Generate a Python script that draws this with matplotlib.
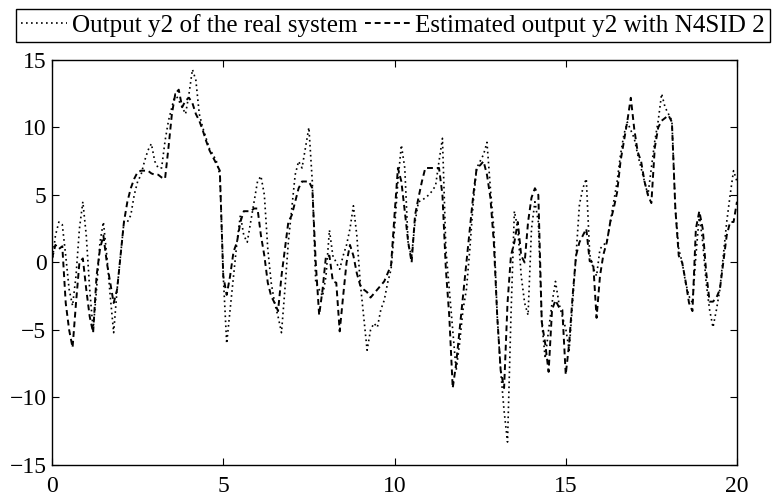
import numpy as np
import matplotlib
matplotlib.use('Agg')
import matplotlib.pyplot as plt

plt.rcParams['font.family'] = ['Liberation Serif', 'DejaVu Serif']

SAMPLE_TIME = 0.1  # [s]
REAL_LABEL = 'Output y2 of the real system'
N4SID_LABEL = 'Estimated output y2 with N4SID 2'
X_TICKS = [0, 5, 10, 15, 20]
Y_TICKS = [-15, -10, -5, 0, 5, 10, 15]

# measured output y2, one row per second
y2_real = [
    0.0, 2.0, 3.0, 2.8, 0.5, -2.0, -3.2, -1.0, 2.5, 4.5,
    2.0, -2.0, -5.0, -2.0, 1.5, 3.0, 0.5, -2.5, -5.2, -2.0,
    0.5, 3.0, 3.0, 3.5, 5.0, 6.0, 6.5, 7.5, 8.3, 8.8,
    7.5, 7.0, 7.0, 9.0, 10.5, 11.5, 12.5, 12.0, 11.5, 11.0,
    12.5, 14.3, 13.5, 11.0, 10.0, 9.2, 8.4, 8.0, 7.5, 6.5,
    -1.0, -6.0, -3.5, -1.0, 1.5, 3.5, 2.0, 1.5, 3.0, 4.5,
    6.0, 6.4, 5.0, 1.0, -1.5, -3.0, -4.0, -5.2, -2.0, 1.5,
    4.0, 6.5, 7.5, 7.0, 8.5, 10.0, 6.0, -1.5, -2.0, -2.5,
    -1.0, 2.4, 0.5, 0.0, -0.5, 0.5, 1.3, 2.5, 4.2, 2.0,
    -1.5, -4.0, -6.5, -5.0, -4.5, -4.8, -3.5, -2.8, -1.5, -0.5,
    2.5, 6.0, 8.7, 7.0, 1.3, 0.5, 3.0, 4.5, 4.6, 4.8,
    5.0, 5.3, 5.7, 7.5, 9.2, 1.0, -2.0, -5.0, -8.0, -6.0,
    -3.5, -2.0, 1.0, 4.5, 7.0, 7.5, 8.0, 8.9, 5.5, 2.5,
    -4.0, -8.0, -11.0, -13.3, -4.0, 3.8, 2.5, -1.0, -3.0, -3.9,
    2.5, 4.5, 3.0, -4.4, -7.1, -5.0, -3.0, -1.4, -3.0, -4.0,
    -4.9, -6.5, -3.0, 0.5, 4.3, 5.5, 6.2, 0.6, -0.4, -1.0,
    1.0, 1.3, 1.5, 3.0, 4.5, 6.0, 8.0, 9.5, 10.4, 9.8,
    9.2, 8.0, 7.0, 6.0, 5.0, 7.0, 9.0, 10.5, 12.5, 11.5,
    11.0, 10.5, 4.0, 1.0, 0.0, -1.5, -2.5, -3.0, 0.5, 3.5,
    1.5, -1.5, -3.5, -4.8, -3.5, -2.0, 0.5, 3.0, 5.0, 6.8,
    6.0,
]

# simulated output y2 of the identified N4SID model
y2_n4sid = [
    0.3, 1.3, 1.0, 1.2, -3.0, -5.0, -6.3, -3.0, 0.0, 0.3,
    -2.0, -4.0, -5.2, -1.0, 1.0, 2.0, 0.0, -1.5, -3.0, -2.0,
    0.5, 3.0, 4.5, 5.5, 6.2, 6.7, 6.8, 6.8, 6.8, 6.6,
    6.5, 6.5, 6.3, 6.2, 8.5, 11.0, 12.5, 12.8, 11.5, 12.0,
    12.2, 11.8, 11.0, 10.5, 9.8, 9.0, 8.3, 7.8, 7.3, 6.8,
    -1.0, -2.4, -1.0, 0.8, 1.5, 3.0, 3.8, 3.8, 3.8, 4.0,
    4.0, 2.0, 0.5, -1.5, -2.5, -3.0, -3.6, -1.0, 1.0, 3.0,
    3.5, 4.5, 5.5, 6.0, 6.0, 6.0, 5.5, 0.0, -3.9, -2.0,
    0.5, 0.5, -1.4, -1.5, -5.1, -2.5, 0.0, 1.3, 0.5, -0.8,
    -1.7, -2.0, -2.2, -2.6, -2.3, -2.0, -1.7, -1.4, -0.8, -0.2,
    3.5, 7.0, 6.0, 3.8, 1.5, 0.0, 3.5, 4.8, 6.0, 7.0,
    7.0, 7.0, 7.0, 7.0, 5.0, -0.5, -4.0, -9.3, -7.5, -5.0,
    -2.5, 0.0, 2.5, 5.0, 7.0, 7.2, 7.5, 6.5, 4.8, 1.5,
    -4.0, -8.0, -9.3, -3.0, 0.5, 1.5, 3.0, 0.5, 0.0, 3.0,
    4.8, 5.5, 5.0, -4.4, -6.0, -8.1, -3.5, -2.8, -3.3, -3.5,
    -8.3, -6.0, -2.5, 0.5, 1.5, 2.0, 2.5, 0.1, 0.0, -4.1,
    -1.0, 0.6, 1.5, 3.0, 4.0, 5.2, 7.5, 9.0, 10.5, 12.2,
    9.9, 8.2, 7.5, 6.0, 5.0, 4.4, 8.5, 10.0, 10.5, 10.7,
    10.9, 10.4, 4.0, 0.5, 0.0, -1.4, -3.0, -3.6, 2.5, 3.8,
    2.5, -0.7, -2.9, -2.9, -2.6, -2.0, 0.0, 2.0, 3.0, 3.0,
    4.5,
]


def plot_outputs(fig, ax, real, estimated):
    time = np.arange(len(real)) * SAMPLE_TIME
    real_line, = ax.plot(time, real, color='black', linewidth=1.2,
                         linestyle=(0, (1.0, 2.0)))
    est_line, = ax.plot(time, estimated, color='black', linewidth=1.4,
                        linestyle=(0, (3.0, 2.0)))
    ax.set_xlim(0, 20)
    ax.set_ylim(-15, 15)
    ax.set_xticks(X_TICKS)
    ax.set_yticks(Y_TICKS)
    ax.tick_params(direction='in', top=True, right=True, length=5, width=0.8,
                   labelsize=17)
    ax.tick_params(axis='x', pad=8)
    ax.tick_params(axis='y', pad=4)
    for spine in ax.spines.values():
        spine.set_linewidth(1.0)

    leg = fig.legend([real_line, est_line], [REAL_LABEL, N4SID_LABEL],
                     loc='center', bbox_to_anchor=(0.5084, 0.9487), ncol=2,
                     fontsize=18.1, frameon=True, fancybox=False, framealpha=1,
                     edgecolor='black', borderpad=0.2, handlelength=1.8,
                     handletextpad=0.2, columnspacing=0.3, borderaxespad=0)
    leg.get_frame().set_linewidth(1.0)


fig = plt.figure(figsize=(7.73, 4.97), dpi=100)
ax = fig.add_axes([0.0673, 0.0644, 0.8861, 0.8149])
plot_outputs(fig, ax, y2_real, y2_n4sid)
fig.savefig('out.png', dpi=100)
